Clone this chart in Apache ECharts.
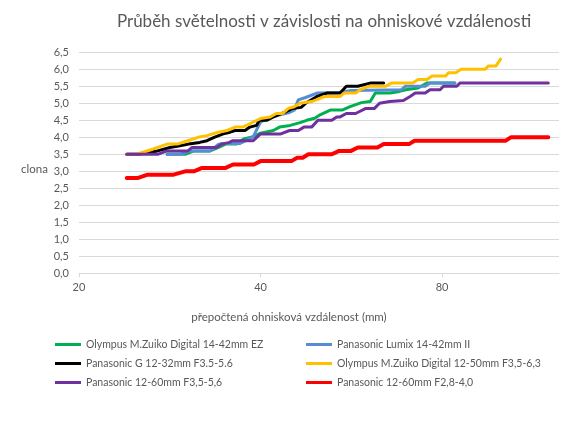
<!DOCTYPE html>
<html>
<head>
<meta charset="utf-8">
<script src="https://cdn.jsdelivr.net/npm/echarts@6/dist/echarts.min.js"></script>
<style>
  html, body { margin: 0; padding: 0; background: #fff; }
  #chart { width: 584px; height: 421px; }
</style>
</head>
<body>
<div id="chart"></div>
<script>
// prepočtená ohnisková vzdálenost (mm) -> clona
var xTicks = [20, 40, 80]
var xMax = 125

var greenName = 'Olympus M.Zuiko Digital 14-42mm EZ'
var greenF = [28, 30, 31, 33, 34, 35, 36.5, 37.5, 38.9, 40, 42, 43, 44.8, 46.5, 47.7, 49.2, 50.2, 52.2, 54.6, 56.3, 58.8, 60.8, 62, 65.6, 68, 69.6, 73, 75.6, 84]
var greenV = [3.5, 3.5, 3.6, 3.6, 3.7, 3.8, 3.8, 3.95, 4.02, 4.12, 4.2, 4.3, 4.35, 4.43, 4.5, 4.56, 4.66, 4.8, 4.8, 4.9, 5.02, 5.05, 5.3, 5.3, 5.35, 5.4, 5.45, 5.6, 5.6]

var blueName = 'Panasonic Lumix 14-42mm II'
var blueF = [28, 29.4, 30.6, 33, 34, 34.5, 37, 38, 38.9, 40, 41.5, 43.1, 44.5, 45.5, 46.2, 47.5, 49.6, 54, 56.5, 68.5, 69.5, 75, 76.4, 84]
var blueV = [3.5, 3.5, 3.6, 3.6, 3.78, 3.82, 3.82, 3.92, 4.02, 4.45, 4.58, 4.66, 4.72, 4.8, 5.1, 5.17, 5.3, 5.32, 5.38, 5.4, 5.5, 5.5, 5.6, 5.6]

var blackName = 'Panasonic G 12-32mm F3.5-5.6'
var blackF = [24, 25, 27, 28.3, 29.4, 30.4, 31.7, 32.6, 33.5, 34.7, 35.6, 36.3, 37.7, 38.4, 39.4, 39.8, 41, 42, 44, 45.2, 46.7, 47.5, 49.6, 51.5, 54.2, 55.5, 58, 61, 64]
var blackV = [3.5, 3.5, 3.6, 3.7, 3.75, 3.8, 3.85, 3.9, 4.0, 4.1, 4.15, 4.2, 4.2, 4.3, 4.35, 4.5, 4.5, 4.6, 4.75, 4.85, 4.88, 5.0, 5.2, 5.3, 5.3, 5.5, 5.5, 5.6, 5.6]

var yellowName = 'Olympus M.Zuiko Digital 12-50mm F3,5-6,3'
var yellowF = [24, 24.9, 26.5, 28, 29.1, 30.3, 31.5, 32.6, 34, 35.2, 36.3, 37.4, 38.9, 40, 41.5, 42.5, 43.5, 44.5, 45.5, 46.5, 48.6, 49.5, 51, 54.2, 55, 57.5, 58.5, 60.5, 64.5, 66, 71.5, 73, 75.5, 77, 81, 82, 84.3, 86, 94.3, 95.5, 98.3, 100]
var yellowV = [3.5, 3.5, 3.65, 3.8, 3.8, 3.9, 4.0, 4.05, 4.15, 4.2, 4.3, 4.3, 4.45, 4.55, 4.6, 4.7, 4.7, 4.85, 4.9, 5.0, 5.05, 5.1, 5.2, 5.2, 5.3, 5.3, 5.4, 5.5, 5.5, 5.6, 5.6, 5.7, 5.7, 5.8, 5.8, 5.9, 5.9, 6.0, 6.0, 6.1, 6.1, 6.3]

var purpleName = 'Panasonic 12-60mm F3,5-5,6'
var purpleF = [24, 27, 28, 30.3, 30.8, 33.8, 34.5, 35.5, 36, 38.9, 40, 43.2, 44.7, 46.2, 47.2, 48.6, 49.8, 52.5, 53.5, 54.2, 55.5, 57.5, 59.8, 61.8, 63, 65.5, 69, 70.8, 72.2, 75, 76.4, 79.4, 80.4, 84.6, 85.7, 120]
var purpleV = [3.5, 3.5, 3.6, 3.6, 3.7, 3.7, 3.8, 3.85, 3.9, 3.9, 4.1, 4.1, 4.2, 4.2, 4.3, 4.3, 4.5, 4.5, 4.6, 4.6, 4.7, 4.7, 4.85, 4.85, 5.0, 5.05, 5.08, 5.2, 5.3, 5.3, 5.4, 5.4, 5.5, 5.5, 5.6, 5.6]

var redName = 'Panasonic 12-60mm F2,8-4,0'
var redF = [24, 25, 26, 28.7, 30, 31, 32, 35, 36, 39, 40, 45, 46, 47, 48, 52.5, 54, 56.5, 58, 62.5, 64, 70.5, 72, 102, 104, 120]
var redV = [2.8, 2.8, 2.9, 2.9, 3.0, 3.0, 3.1, 3.1, 3.2, 3.2, 3.3, 3.3, 3.4, 3.4, 3.5, 3.5, 3.6, 3.6, 3.7, 3.7, 3.8, 3.8, 3.9, 3.9, 4.0, 4.0]

var textColor = '#595959'
var font = 'Lato'

// osa x je logaritmicka (zaklad 2), pocitano od 20 mm
function toLog(f) { return Math.log2(f / xTicks[0]) }

function pairs(fs, vs) {
    return fs.map(function (f, i) { return [toLog(f), vs[i]] })
}

function line(name, fs, vs, color, width) {
    return {
        name: name,
        type: 'line',
        data: pairs(fs, vs),
        showSymbol: false,
        symbol: 'none',
        lineStyle: { color: color, width: width, cap: 'round', join: 'round' },
        itemStyle: { color: color },
        emphasis: { disabled: true }
    }
}

var legendText = { color: textColor, fontFamily: font, fontSize: 10.5 }

var chart = echarts.init(document.getElementById('chart'))
chart.setOption({
    animation: false,
    title: {
        text: 'Průběh světelnosti v závislosti na ohniskové vzdálenosti',
        left: 319,
        textAlign: 'center',
        top: 8,
        textStyle: { color: textColor, fontFamily: font, fontSize: 17, fontWeight: 'normal' }
    },
    legend: [
        {
            left: 55, top: 339, padding: 0, orient: 'vertical', icon: 'rect',
            itemWidth: 26, itemHeight: 3, itemGap: 8,
            textStyle: legendText,
            data: [greenName, blackName, purpleName]
        },
        {
            left: 306, top: 339, padding: 0, orient: 'vertical', icon: 'rect',
            itemWidth: 26, itemHeight: 3, itemGap: 8,
            textStyle: legendText,
            data: [blueName, yellowName, redName]
        }
    ],
    grid: { left: 79, right: 25, top: 52.3, bottom: 147.7 },
    xAxis: {
        type: 'value',
        min: 0,
        max: toLog(xMax),
        interval: 1,
        name: 'přepočtená ohnisková vzdálenost (mm)',
        nameLocation: 'middle',
        nameGap: 38,
        nameTextStyle: { color: textColor, fontFamily: font, fontSize: 11.5, padding: [0, 60, 0, 0] },
        axisLine: { lineStyle: { color: '#d9d9d9' } },
        axisTick: { length: 4, lineStyle: { color: '#d9d9d9' }, customValues: xTicks.map(toLog) },
        axisLabel: {
            color: textColor, fontFamily: font, fontSize: 11, margin: 9,
            customValues: xTicks.map(toLog),
            formatter: function (v) { return Math.round(xTicks[0] * Math.pow(2, v)) }
        },
        splitLine: { show: false }
    },
    yAxis: {
        type: 'value',
        min: 0,
        max: 6.5,
        interval: 0.5,
        name: 'clona',
        nameLocation: 'middle',
        nameRotate: 0,
        nameGap: 30,
        nameTextStyle: { color: textColor, fontFamily: font, fontSize: 11.5, verticalAlign: 'top' },
        axisLine: { show: false },
        axisTick: { show: false },
        axisLabel: {
            color: textColor, fontFamily: font, fontSize: 11, margin: 10,
            formatter: function (v) { return v.toFixed(1).replace('.', ',') }
        },
        splitLine: { lineStyle: { color: '#d9d9d9' } }
    },
    series: [
        line(greenName, greenF, greenV, '#00b050', 3),
        line(blueName, blueF, blueV, '#558ed5', 3),
        line(blackName, blackF, blackV, '#000000', 3),
        line(yellowName, yellowF, yellowV, '#ffc000', 3),
        line(purpleName, purpleF, purpleV, '#7030a0', 3),
        line(redName, redF, redV, '#ff0000', 4)
    ]
})
</script>
</body>
</html>
